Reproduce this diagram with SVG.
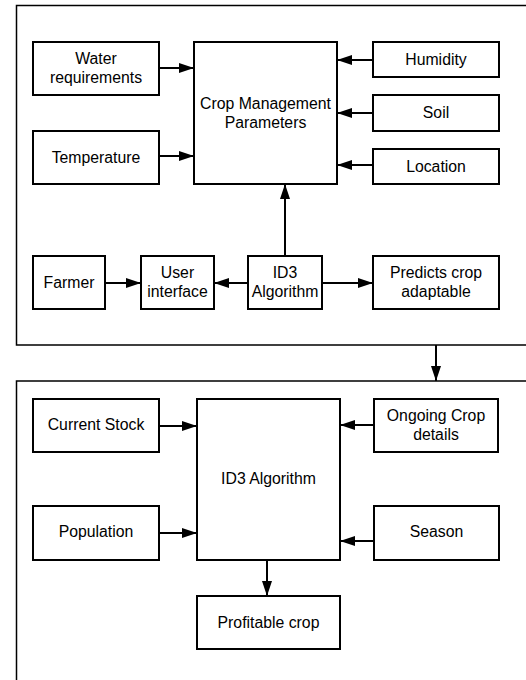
<svg xmlns="http://www.w3.org/2000/svg" width="526" height="680" viewBox="0 0 526 680">
<style>
.box{fill:#fff;stroke:#000;stroke-width:2}
.frame{fill:none;stroke:#000;stroke-width:1.5}
.t{font-family:"Liberation Sans",Arial,sans-serif;font-size:15.8px;fill:#000;text-anchor:middle;dominant-baseline:central}
.c{fill:none;stroke:#000;stroke-width:2}
</style>
<defs>
<marker id="ah" markerUnits="userSpaceOnUse" markerWidth="16" markerHeight="12" refX="15" refY="6" orient="auto">
<path d="M0,1 L15,6 L0,11 Z" fill="#000"/>
</marker>
</defs>
<g id="frame1"><path class="frame" d="M530,5.5 H16.5 V345 H530"/></g>
<g id="frame2"><path class="frame" d="M530,381 H16.5 V690"/></g>
<g id="water"><rect class="box" x="33" y="42" width="126" height="53"/><text class="t" x="96" y="58">Water</text><text class="t" x="96" y="77">requirements</text></g>
<g id="temperature"><rect class="box" x="33" y="131" width="126" height="53"/><text class="t" x="96" y="157">Temperature</text></g>
<g id="cmp"><rect class="box" x="194" y="42" width="143" height="142"/><text class="t" x="265.5" y="103">Crop Management</text><text class="t" x="265.5" y="122">Parameters</text></g>
<g id="humidity"><rect class="box" x="373" y="42" width="126" height="35"/><text class="t" x="436" y="59">Humidity</text></g>
<g id="soil"><rect class="box" x="373" y="95" width="126" height="36"/><text class="t" x="436" y="112">Soil</text></g>
<g id="location"><rect class="box" x="373" y="149" width="126" height="35"/><text class="t" x="436" y="166">Location</text></g>
<g id="farmer"><rect class="box" x="33" y="256" width="72" height="53"/><text class="t" x="69" y="282">Farmer</text></g>
<g id="ui"><rect class="box" x="141" y="256" width="73" height="53"/><text class="t" x="177.5" y="272">User</text><text class="t" x="177.5" y="291">interface</text></g>
<g id="id3a"><rect class="box" x="248" y="256" width="74" height="53"/><text class="t" x="285" y="272">ID3</text><text class="t" x="285" y="291">Algorithm</text></g>
<g id="predicts"><rect class="box" x="373" y="256" width="126" height="53"/><text class="t" x="436" y="272">Predicts crop</text><text class="t" x="436" y="291">adaptable</text></g>
<g id="stock"><rect class="box" x="33" y="399" width="126" height="53"/><text class="t" x="96" y="424">Current Stock</text></g>
<g id="population"><rect class="box" x="33" y="506" width="126" height="54"/><text class="t" x="96" y="531">Population</text></g>
<g id="id3b"><rect class="box" x="197" y="399" width="143" height="161"/><text class="t" x="268.5" y="478">ID3 Algorithm</text></g>
<g id="ongoing"><rect class="box" x="374" y="399" width="124" height="53"/><text class="t" x="436" y="415">Ongoing Crop</text><text class="t" x="436" y="434">details</text></g>
<g id="season"><rect class="box" x="374" y="506" width="125" height="54"/><text class="t" x="436.5" y="531">Season</text></g>
<g id="profitable"><rect class="box" x="197" y="596" width="143" height="53"/><text class="t" x="268.5" y="622">Profitable crop</text></g>
<g id="connectors">
<line class="c" x1="159" y1="68" x2="194" y2="68" marker-end="url(#ah)"/>
<line class="c" x1="159" y1="156" x2="194" y2="156" marker-end="url(#ah)"/>
<line class="c" x1="373" y1="60" x2="337" y2="60" marker-end="url(#ah)"/>
<line class="c" x1="373" y1="113" x2="337" y2="113" marker-end="url(#ah)"/>
<line class="c" x1="373" y1="165" x2="337" y2="165" marker-end="url(#ah)"/>
<line class="c" x1="105" y1="283" x2="141" y2="283" marker-end="url(#ah)"/>
<line class="c" x1="248" y1="283" x2="214" y2="283" marker-end="url(#ah)"/>
<line class="c" x1="322" y1="283" x2="373" y2="283" marker-end="url(#ah)"/>
<line class="c" x1="285" y1="256" x2="285" y2="184" marker-end="url(#ah)"/>
<line class="c" x1="436" y1="345" x2="436" y2="381" marker-end="url(#ah)"/>
<line class="c" x1="159" y1="426" x2="197" y2="426" marker-end="url(#ah)"/>
<line class="c" x1="159" y1="533" x2="197" y2="533" marker-end="url(#ah)"/>
<line class="c" x1="374" y1="425" x2="340" y2="425" marker-end="url(#ah)"/>
<line class="c" x1="374" y1="541" x2="340" y2="541" marker-end="url(#ah)"/>
<line class="c" x1="267" y1="560" x2="267" y2="596" marker-end="url(#ah)"/>
</g>
</svg>
